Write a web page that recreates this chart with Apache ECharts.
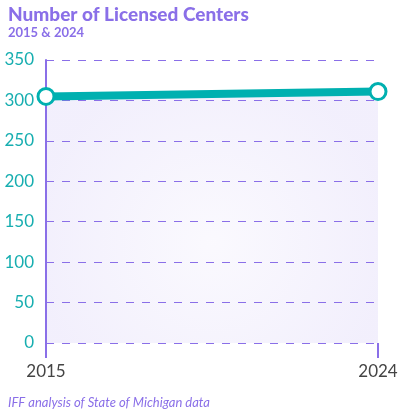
<!DOCTYPE html>
<html>
<head>
<meta charset="utf-8">
<script src="https://cdn.jsdelivr.net/npm/echarts@6/dist/echarts.min.js"></script>
<style>
  html, body { margin: 0; padding: 0; background: #fff; }
  #chart { width: 401px; height: 409px; }
</style>
</head>
<body>
<div id="chart"></div>
<script>
// data
var years = ['2015', '2024'];
var centers = [305, 311];
var yTicks = [0, 50, 100, 150, 200, 250, 300, 350];

var purple = '#8a6fe8';
var teal = '#00b0b0';

var myChart = echarts.init(document.getElementById('chart'));

var option = {
    backgroundColor: '#fff',
    title: [{
        text: 'Number of Licensed Centers',
        left: 3, top: 0,
        textStyle: { color: purple, fontSize: 19, fontWeight: 900, fontFamily: 'Lato' }
    }, {
        text: '2015 & 2024',
        left: 3, top: 21,
        textStyle: { color: purple, fontSize: 13, fontWeight: 'bold', fontFamily: 'Lato' }
    }, {
        text: 'IFF analysis of State of Michigan data',
        left: 3, top: 391,
        textStyle: { color: purple, fontSize: 13, fontStyle: 'italic', fontWeight: 'normal', fontFamily: 'Lato' }
    }],
    grid: { left: 46, right: 23, top: 60, bottom: 66, containLabel: false },
    xAxis: {
        type: 'category',
        data: years,
        boundaryGap: false,
        axisLine: { show: false },
        axisTick: { show: true, length: 15, lineStyle: { color: purple, width: 2 } },
        axisLabel: { color: '#444', fontSize: 17, fontFamily: 'Lato', margin: 20 },
        splitLine: { show: false }
    },
    yAxis: {
        type: 'value',
        min: yTicks[0],
        max: yTicks[yTicks.length - 1],
        interval: 50,
        axisLine: { show: true, lineStyle: { color: purple, width: 2 } },
        axisTick: { show: false },
        axisLabel: { color: '#17aeb0', fontSize: 17, fontFamily: 'Lato', margin: 12 },
        splitLine: { show: true, lineStyle: { color: purple, type: [8, 8], width: 1 } }
    },
    series: [{
        type: 'line',
        data: centers,
        symbol: 'circle',
        symbolSize: 16,
        lineStyle: { color: teal, width: 8 },
        itemStyle: { color: '#fff', borderColor: teal, borderWidth: 3 },
        areaStyle: {
            color: {
                type: 'radial', x: 0.5, y: 0.6, r: 0.7,
                colorStops: [
                    { offset: 0, color: 'rgba(138,111,232,0.04)' },
                    { offset: 1, color: 'rgba(138,111,232,0.11)' }
                ]
            },
            opacity: 1
        },
        z: 3
    }]
};
myChart.setOption(option);
</script>
</body>
</html>
